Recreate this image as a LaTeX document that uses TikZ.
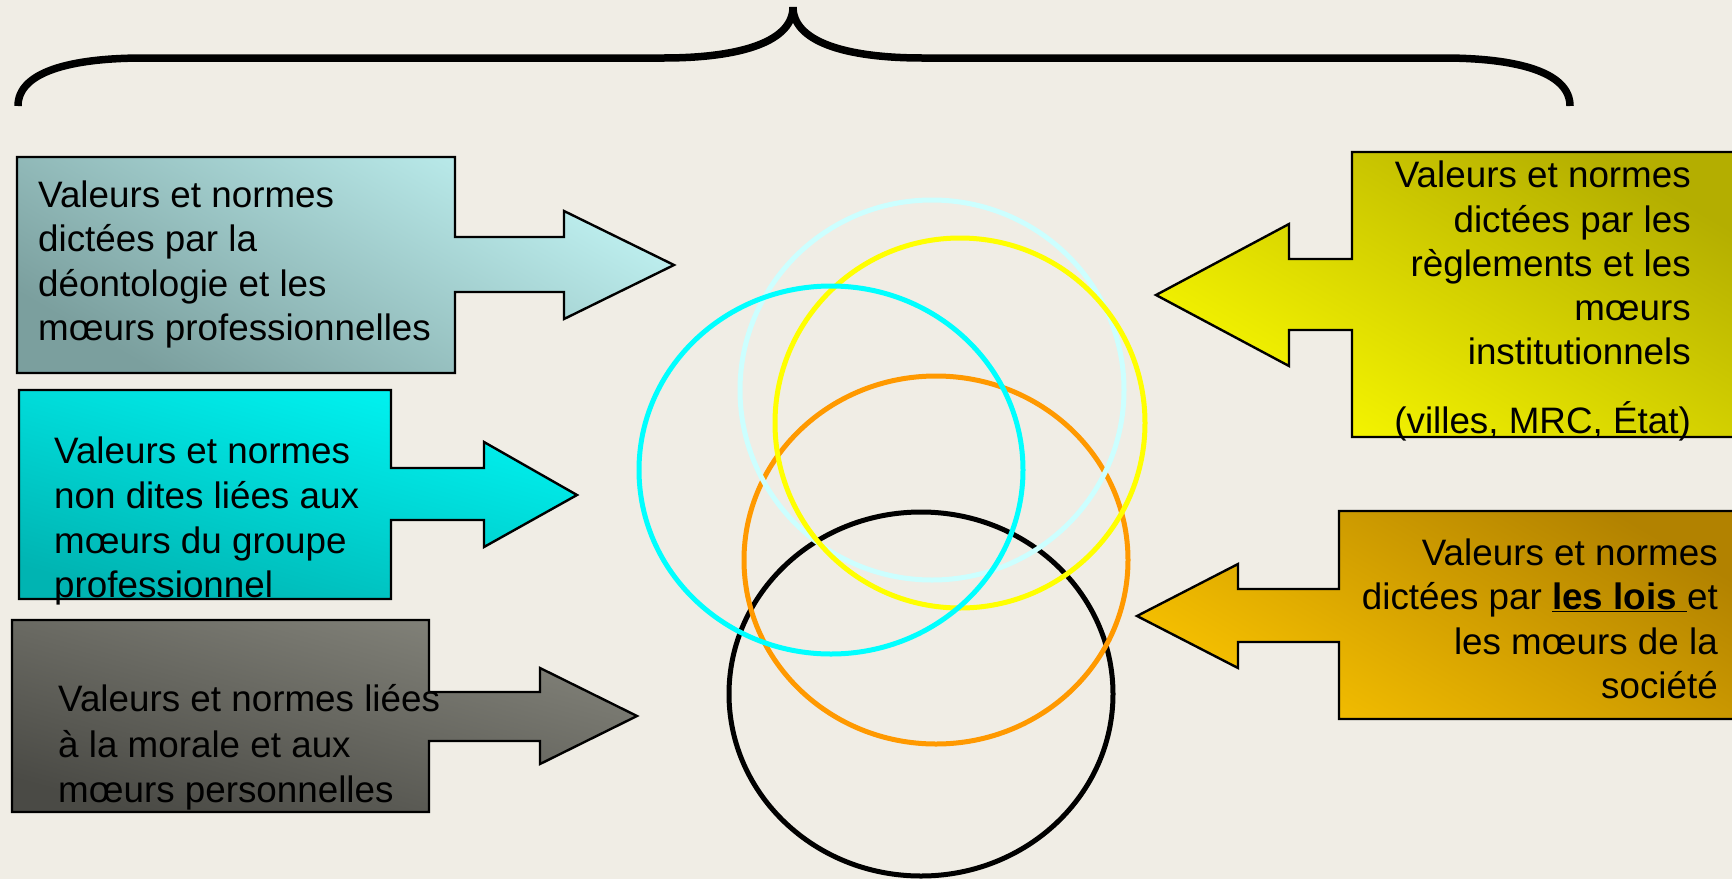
\documentclass[tikz,border=0pt]{standalone}
\usepackage{fontspec}
\setmainfont{Liberation Sans}
\definecolor{bg}{HTML}{F0EDE5}
\definecolor{aTop}{HTML}{C0F2F2}
\definecolor{aBot}{HTML}{7B9F9E}
\definecolor{bTop}{HTML}{00F6F4}
\definecolor{bBot}{HTML}{00B4B2}
\definecolor{cTop}{HTML}{85857C}
\definecolor{cBot}{HTML}{4A4A45}
\definecolor{dLight}{HTML}{F8F800}
\definecolor{dDark}{HTML}{B4AE00}
\definecolor{eLight}{HTML}{F8C200}
\definecolor{eDark}{HTML}{B28200}
\definecolor{ringpale}{HTML}{CCFFFF}
\definecolor{ringyellow}{HTML}{FFFF00}
\definecolor{ringcyan}{HTML}{00FFFF}
\definecolor{ringorange}{HTML}{FF9900}
\begin{document}
\begin{tikzpicture}[x=1pt,y=-1pt,
  txt/.style={inner sep=0pt, font=\fontsize{36.8}{44}\selectfont},
  panel/.style={draw=black, line width=2.4pt, line join=miter},
  ring/.style={line width=5pt}]
\useasboundingbox (0,0) rectangle (1732,879);
\fill[bg] (0,0) rectangle (1732,879);

% curly brace over the whole figure
\draw[line width=7.5pt, line cap=butt]
  (18,106) .. controls (18,72) and (70,58) .. (144,58) -- (663,58)
  .. controls (745,58) and (793,40) .. (793,7)
  .. controls (793,40) and (841,58) .. (923,58) -- (1443,58)
  .. controls (1517,58) and (1570,72) .. (1570,106);

% overlapping rings
\draw[ring, black]      (921,694) ellipse [x radius=192, y radius=182];
\draw[ring, ringorange] (936,560) ellipse [x radius=192, y radius=184];
\draw[ring, ringpale]   (932,390) ellipse [x radius=192, y radius=190];
\draw[ring, ringyellow] (960,423) ellipse [x radius=185, y radius=185];
\draw[ring, ringcyan]   (831,470) ellipse [x radius=192, y radius=184];

% left callouts pointing right
\path[panel, top color=aTop, bottom color=aBot, shading angle=-30]
  (17,157) -- (455,157) -- (455,237) -- (564,237) -- (564,211) -- (674,265)
  -- (564,319) -- (564,292) -- (455,292) -- (455,373) -- (17,373) -- cycle;
\path[panel, top color=bTop, bottom color=bBot, shading angle=-15]
  (19,390) -- (391,390) -- (391,468) -- (484,468) -- (484,442) -- (577,495)
  -- (484,547) -- (484,520) -- (391,520) -- (391,599) -- (19,599) -- cycle;
\path[panel, top color=cTop, bottom color=cBot, shading angle=-15]
  (12,620) -- (429,620) -- (429,692) -- (540,692) -- (540,668) -- (637,716)
  -- (540,764) -- (540,741) -- (429,741) -- (429,812) -- (12,812) -- cycle;

% right callouts pointing left
\path[panel, top color=dDark, bottom color=dLight, shading angle=-30]
  (1745,152) -- (1352,152) -- (1352,259) -- (1289,259) -- (1289,224) -- (1156,295)
  -- (1289,366) -- (1289,330) -- (1352,330) -- (1352,437) -- (1745,437) -- cycle;
\path[panel, top color=eDark, bottom color=eLight, shading angle=-30]
  (1745,511) -- (1339,511) -- (1339,589) -- (1238,589) -- (1238,564) -- (1137,616)
  -- (1238,668) -- (1238,642) -- (1339,642) -- (1339,719) -- (1745,719) -- cycle;

% texts of the left callouts
\node[txt, anchor=base west] (a1) at (38,207) {Valeurs et normes};
\node[txt, anchor=base west] (a2) at (38,251) {dictées par la};
\node[txt, anchor=base west] (a3) at (38,296) {déontologie et les};
\node[txt, anchor=base west] (a4) at (38,340) {mœurs professionnelles};

\node[txt, anchor=base west] (b1) at (54,463) {Valeurs et normes};
\node[txt, anchor=base west] (b2) at (54,508) {non dites liées aux};
\node[txt, anchor=base west] (b3) at (54,553) {mœurs du groupe};
\node[txt, anchor=base west] (b4) at (54,597) {professionnel};

\node[txt, anchor=base west] (c1) at (58,711) {Valeurs et normes liées};
\node[txt, anchor=base west] (c2) at (58,757) {à la morale et aux};
\node[txt, anchor=base west] (c3) at (58,802) {mœurs personnelles};

% texts of the right callouts
\node[txt, anchor=base east] (d1) at (1691,187) {Valeurs et normes};
\node[txt, anchor=base east] (d2) at (1691,232) {dictées par les};
\node[txt, anchor=base east] (d3) at (1691,276) {règlements et les};
\node[txt, anchor=base east] (d4) at (1691,320) {mœurs};
\node[txt, anchor=base east] (d5) at (1691,364) {institutionnels};
\node[txt, anchor=base east] (d6) at (1691,433) {(villes, MRC, État)};

\node[txt, anchor=base east] (e1) at (1718,565) {Valeurs et normes};
\node[txt, anchor=base east] (e2) at (1718,609) {dictées par \underline{\textbf{les lois\ }}et};
\node[txt, anchor=base east] (e3) at (1718,654) {les mœurs de la};
\node[txt, anchor=base east] (e4) at (1718,698) {société};
\end{tikzpicture}
\end{document}
